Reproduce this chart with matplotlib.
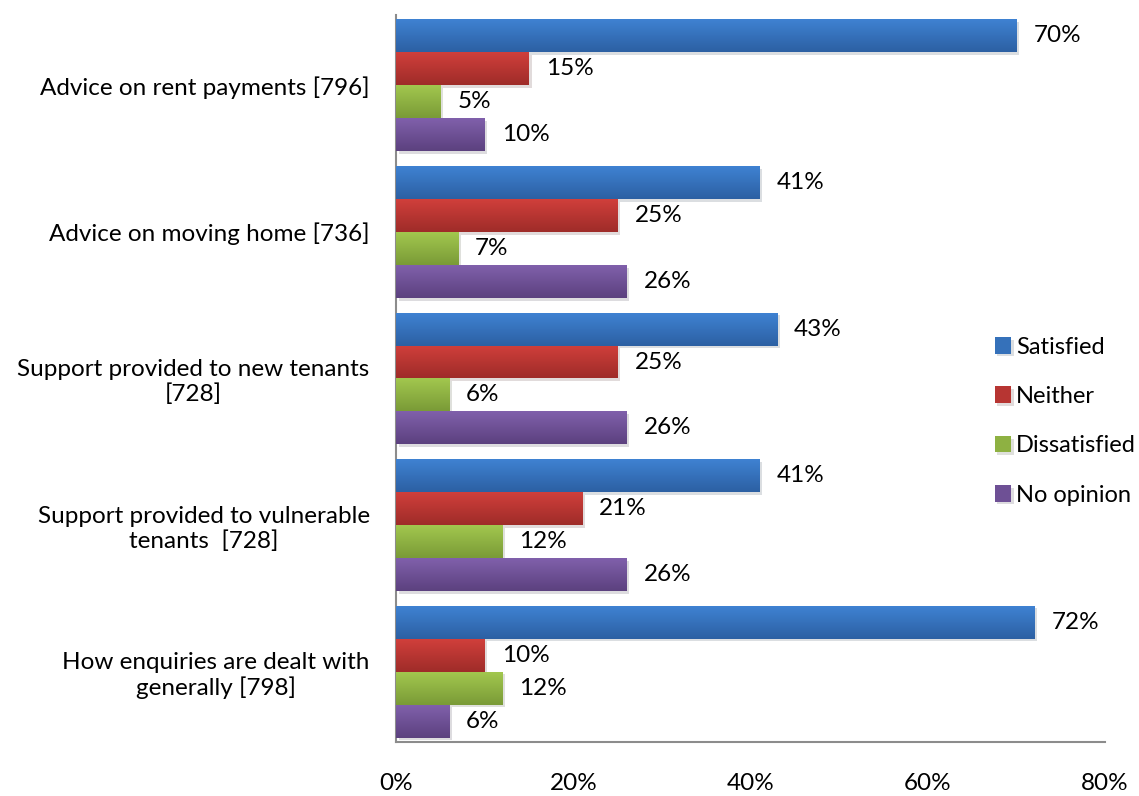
import numpy as np
import matplotlib.pyplot as plt
import matplotlib.colors as mcolors
from matplotlib import patheffects as pe

plt.rcParams['font.family'] = ['Lato', 'DejaVu Sans']

# survey answers per service, percentages
services = ["Advice on rent payments [796]",
            "Advice on moving home [736]",
            "Support provided to new tenants\n[728]",
            "Support provided to vulnerable\ntenants  [728]",
            "How enquiries are dealt with\ngenerally [798]"]
answers = ["Satisfied", "Neither", "Dissatisfied", "No opinion"]
satisfied = [70, 41, 43, 41, 72]
neither = [15, 25, 25, 21, 10]
dissatisfied = [5, 7, 6, 12, 12]
no_opinion = [10, 26, 26, 26, 6]
xticks = [0, 20, 40, 60, 80]

series = [satisfied, neither, dissatisfied, no_opinion]
# light (top) and dark (bottom) shade for each series
shades = [("#3f82d2", "#2c60a3"),
          ("#d03f3b", "#9f2c29"),
          ("#a2c74e", "#7a9b37"),
          ("#8060ab", "#5c417f")]
fs = 17.5

fig = plt.figure(figsize=(11.39, 7.96), dpi=100)
ax = fig.add_axes([0.3477, 0.0678, 0.6226, 0.9134])

h = 0.225
offsets = [-1.5 * h, -0.5 * h, 0.5 * h, 1.5 * h]
y = np.arange(len(services))
grad = np.linspace(0, 1, 64).reshape(-1, 1)

for vals, off, (c1, c2), name in zip(series, offsets, shades, answers):
    cmap = mcolors.LinearSegmentedColormap.from_list(name, [c1, c2])
    bars = ax.barh(y + off, vals, height=h, color=cmap(0.5), label=name, zorder=2)
    for b, v in zip(bars, vals):
        b.set_path_effects([pe.SimplePatchShadow(offset=(2, -2), alpha=0.15), pe.Normal()])
        x0, y0 = b.get_x(), b.get_y()
        im = ax.imshow(grad, cmap=cmap, aspect='auto', zorder=3,
                       extent=(x0, x0 + b.get_width(), y0 + b.get_height(), y0))
        im.set_clip_path(b)
        ax.annotate(f"{v}%", (v, y0 + b.get_height() / 2),
                    xytext=(17, 0), textcoords='offset pixels',
                    va='center', ha='left', fontsize=fs, color='black')

ax.set_xlim(0, 80)
ax.set_ylim(4.48, -0.48)
ax.set_xticks(xticks)
ax.set_xticklabels([f"{t}%" for t in xticks], fontsize=fs)
ax.set_yticks(y)
ax.set_yticklabels(services, fontsize=fs, multialignment='center')
ax.tick_params(axis='x', length=0, pad=22)
ax.tick_params(axis='y', length=0, pad=19)
for s in ['top', 'right']:
    ax.spines[s].set_visible(False)
for s in ['left', 'bottom']:
    ax.spines[s].set_color('#8c8c8c')
    ax.spines[s].set_linewidth(1.5)

ax.legend(loc='center left', bbox_to_anchor=(0.8545, 0.471), bbox_transform=fig.transFigure,
          frameon=False, fontsize=17, handlelength=0.7, handleheight=0.7,
          handletextpad=0.2, labelspacing=1.2)

fig.savefig("out.png", dpi=100)
